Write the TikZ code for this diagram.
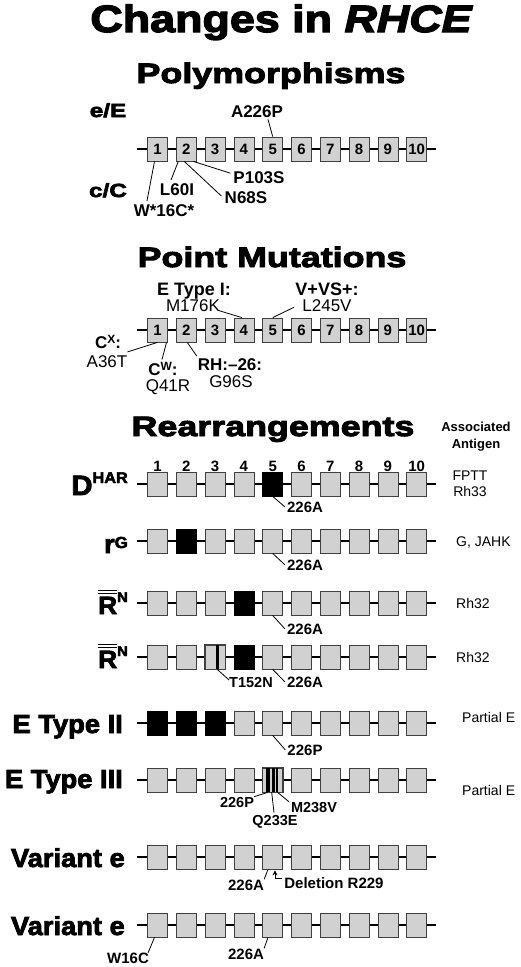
\documentclass[tikz,border=0pt]{standalone}
\usepackage{fontspec}
\setmainfont{Liberation Sans}
\newfontfamily\hvT{Liberation Sans Bold}[FakeBold=3.5,FakeStretch=1.18]
\newfontfamily\hvTi{Liberation Sans Bold Italic}[FakeBold=3.5,FakeStretch=1.18]
\newfontfamily\hvS{Liberation Sans Bold}[FakeBold=3.5,FakeStretch=1.28]
\newfontfamily\hvR{Liberation Sans Bold}[FakeBold=3,FakeStretch=1.05]
\newfontfamily\bd{Liberation Sans Bold}
\usetikzlibrary{calc,arrows.meta}
\newcommand\fs[1]{\fontsize{#1}{#1}\selectfont}
\newcommand\dbar[1]{\vbox{\hrule height 1.4pt\kern1.6pt\hrule height 1.4pt\kern2.4pt\hbox{#1}}}
\newcommand\generow[3]{%
  \coordinate (#1-s) at (137,#2);
  \coordinate (#1-e) at (436,#2);
  \draw[backbone] (#1-s) -- (#1-e);
  \foreach \i in {1,...,10}{
    \node[exon] (#1-\i) at ({157.5+28.8*(\i-1)},#2) {\ifnum#3=1 \i\fi};
  }%
}
\begin{document}
\begin{tikzpicture}[x=1pt,y=-1pt,
  exon/.style={draw=black!75, fill=black!18, line width=0.8pt, minimum width=20pt,
    minimum height=24pt, inner sep=0pt, font=\bd\fs{15}},
  exonblk/.style={exon, fill=black, draw=black},
  border/.style={draw=black!75, line width=0.8pt},
  backbone/.style={line width=2.2pt},
  lead/.style={line width=0.8pt},
  sect/.style={font=\hvS\fs{28}, inner sep=0pt, anchor=base},
  rowlbl/.style={font=\hvR, inner sep=0pt, anchor=base east},
  pm/.style={font=\bd\fs{17}, inner sep=0pt, anchor=base},
  pmh/.style={font=\bd\fs{18}, inner sep=0pt, anchor=base},
  pmr/.style={font=\fs{17}, inner sep=0pt, anchor=base},
  rl/.style={font=\bd\fs{15}, inner sep=0pt, anchor=base},
  rs/.style={font=\bd\fs{14.5}, inner sep=0pt, anchor=base},
  ant/.style={font=\fs{14}, inner sep=0pt, anchor=base west},
  num/.style={font=\bd\fs{15}, inner sep=0pt, anchor=base}
]
\useasboundingbox (0,0) rectangle (520,967);

% ---------- titles ----------
\node[font=\hvT\fs{38}, inner sep=0pt, anchor=base] (title) at (281,32) {Changes in {\hvTi RHCE}};
\node[sect] (poly) at (271,83) {Polymorphisms};
\node[sect] (point) at (272,267) {Point Mutations};
\node[sect] (rearr) at (273,436) {Rearrangements};

% ---------- Polymorphisms ----------
\node[font=\hvS\fs{19}, inner sep=0pt, anchor=base] (eE) at (108,117) {e/E};
\node[font=\hvS\fs{19}, inner sep=0pt, anchor=base] (cC) at (108,197) {c/C};
\generow{p}{149}{1}
\node[pm] (A226P) at (257,117) {A226P};
\node[pm] (L60I) at (177,195) {L60I};
\node[pm] (P103S) at (259,183) {P103S};
\node[pm] (N68S) at (246,203) {N68S};
\node[pm] (W16s) at (164,216) {W*16C*};
\draw[lead] ($(A226P.south)+(11,2)$) -- (p-5.north);
\draw[lead] ($(W16s.north)+(-17,-3)$) -- ($(p-1.south)+(-3,0)$);
\draw[lead] ($(L60I.north)+(-6,-3)$) -- ($(p-2.south)+(-8,0)$);
\draw[lead] ($(P103S.west)+(-3,-4)$) -- ($(p-2.south)+(7,0)$);
\draw[lead] ($(N68S.west)+(-3,-1)$) -- ($(p-2.south)+(-2,0)$);

% ---------- Point mutations ----------
\generow{m}{330}{1}
\node[pmh] (ET1) at (194,295) {E Type I:};
\node[pmr] (M176K) at (193,311) {M176K};
\node[pmh] (VVS) at (327,295) {V+VS+:};
\node[pmr] (L245V) at (327,311) {L245V};
\node[pmh] (CX) at (108,348) {\fs{17}C\raisebox{5pt}{\fs{12}X}:};
\node[pmr] (A36T) at (107,367) {A36T};
\node[pmh] (CW) at (163,375) {\fs{17}C\raisebox{5pt}{\fs{12}W}:};
\node[pmr] (Q41R) at (168,391) {Q41R};
\node[pmh] (RH) at (230,370) {\fs{17}RH:\textendash26:};
\node[pmr] (G96S) at (231,387) {G96S};
\draw[lead] ($(M176K.south east)+(-2,-1)$) -- ($(m-4.north)+(-2,0)$);
\draw[lead] ($(L245V.west)+(-8,2)$) -- (m-5.north);
\draw[lead] ($(A36T.north east)+(0,-3)$) -- (m-1.south);
\draw[lead] ($(CW.north)+(-1,-2)$) -- ($(m-1.south)+(9,0)$);
\draw[lead] ($(RH.north west)+(-1,-2)$) -- ($(m-2.south)+(1,0)$);

% ---------- Rearrangements ----------
\node[font=\bd\fontsize{13}{17}\selectfont, align=center, inner sep=0pt] (assoc) at (476,437) {Associated\\Antigen};

\generow{a}{484}{0}
\foreach \i in {1,...,10}{
  \node[num] (n-\i) at ($(a-\i.center)+(0,-13)$) {\i};
}
\node[exonblk] (a-5b) at (a-5) {};
\node[rowlbl] (lD) at (128,495) {\fs{28}D\raisebox{12pt}{\fs{15.5}HAR}};
\node[rl] (a226) at (305,512) {226A};
\draw[lead] (a-5.south) -- ($(a226.west)+(-2,0)$);
\node[font=\fontsize{14}{16}\selectfont, align=center, inner sep=0pt] (fptt) at (470,484) {FPTT\\Rh33};

\generow{b}{541}{0}
\node[exonblk] (b-2b) at (b-2) {};
\node[rowlbl] (lr) at (128,553) {\fs{26}r\raisebox{5pt}{\fs{16}G}};
\node[rl] (b226) at (305,570) {226A};
\draw[lead] (b-5.south) -- ($(b226.west)+(-2,0)$);
\node[ant] (gjahk) at (456,546) {G, JAHK};

\generow{c}{603}{0}
\node[exonblk] (c-4b) at (c-4) {};
\node[rowlbl] (lR1) at (128,614) {\fs{25}\dbar{R}\raisebox{12pt}{\fs{14}N}};
\node[rl] (c226) at (305,634) {226A};
\draw[lead] (c-5.south) -- ($(c226.west)+(-2,0)$);
\node[ant] (rh32a) at (456,608) {Rh32};

\generow{d}{657}{0}
\node[exonblk] (d-4b) at (d-4) {};
\fill ($(d-3.south)+(0.6,0)$) rectangle ($(d-3.north)+(3.8,0)$);
\draw[border] (d-3.south west) rectangle (d-3.north east);
\node[rowlbl] (lR2) at (128,668) {\fs{25}\dbar{R}\raisebox{12pt}{\fs{14}N}};
\node[rl] (d226) at (305,687) {226A};
\node[rs] (T152N) at (251,687) {T152N};
\draw[lead] (d-5.south) -- ($(d226.west)+(-2,0)$);
\draw[lead] ($(d-3.south)+(2.2,0)$) -- ($(T152N.west)+(0,-2)$);
\node[ant] (rh32b) at (456,662) {Rh32};

\generow{e}{723}{0}
\node[exonblk] (e-1b) at (e-1) {};
\node[exonblk] (e-2b) at (e-2) {};
\node[exonblk] (e-3b) at (e-3) {};
\node[rowlbl] (lE2) at (123,733) {\fs{26}E Type II};
\node[rl] (e226) at (305,755) {226P};
\draw[lead] (e-5.south) -- ($(e226.west)+(-2,0)$);
\node[ant] (pe1) at (462,722) {Partial E};

\generow{f}{780}{0}
\fill ($(f-5.south west)+(3.3,0)$) rectangle ($(f-5.north west)+(8,0)$);
\fill ($(f-5.south west)+(9.6,0)$) rectangle ($(f-5.north west)+(12.6,0)$);
\fill ($(f-5.south west)+(13.8,0)$) rectangle ($(f-5.north west)+(15.6,0)$);
\draw[border] (f-5.south west) rectangle (f-5.north east);
\node[rowlbl] (lE3) at (123,788) {\fs{26}E Type III};
\node[rs] (f226) at (237,807) {226P};
\node[rs] (Q233E) at (275,825) {Q233E};
\node[rs] (M238V) at (314,812) {M238V};
\draw[lead] (f226.north east) -- ($(f-5.south)+(-5,0)$);
\draw[lead] ($(f-5.south)+(-1,0)$) -- ($(Q233E.north)+(-1,-2)$);
\draw[lead] ($(f-5.south)+(5,0)$) -- ($(M238V.north west)+(-2,0)$);
\node[ant] (pe2) at (462,795) {Partial E};

\generow{g}{857}{0}
\node[rowlbl] (lV1) at (125,867) {\fs{26}Variant e};
\node[rl] (g226) at (246,890) {226A};
\node[rl] (del) at (334,888) {Deletion R229};
\draw[lead] (g226.north east) -- ($(g-5.south)+(-4.7,0)$);
\draw[lead, -{Stealth[length=5pt,width=5pt]}] ($(del.west)+(-2,-4)$) -| ($(g-5.south)+(2.3,1)$);

\generow{h}{925}{0}
\node[rowlbl] (lV2) at (125,935) {\fs{26}Variant e};
\node[rl] (W16C) at (128,963.5) {W16C};
\node[rl] (h226) at (246,959) {226A};
\draw[lead] ($(W16C.north east)+(-1,0)$) -- ($(h-1.south)+(-3,0)$);
\draw[lead] (h226.north east) -- ($(h-5.south)+(-4.7,0)$);
\end{tikzpicture}
\end{document}
